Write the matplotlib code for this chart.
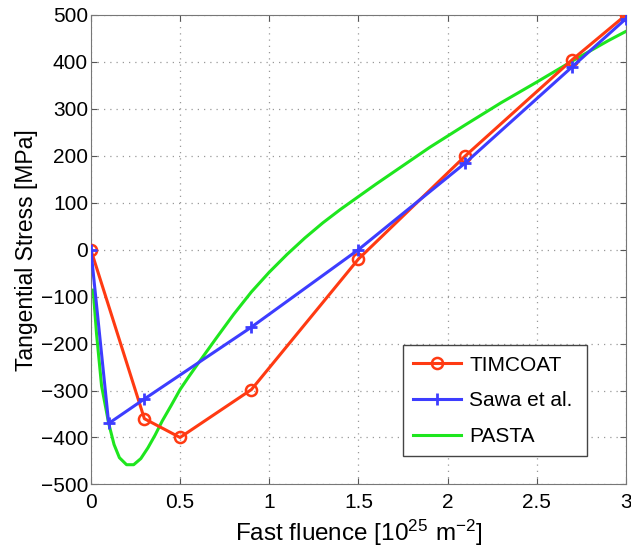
import matplotlib.pyplot as plt

plt.rcParams["font.family"] = ["Liberation Sans", "DejaVu Sans"]

# TIMCOAT
x_timcoat = [0, 0.3, 0.5, 0.9, 1.5, 2.1, 2.7, 3.0]
y_timcoat = [0, -360, -400, -298, -20, 200, 405, 500]

# Sawa et al.
x_sawa = [0, 0.1, 0.3, 0.9, 1.5, 2.1, 2.7, 3.0]
y_sawa = [0, -370, -318, -165, 0, 185, 390, 492]

# PASTA
x_pasta = [0.013, 0.032, 0.06, 0.1, 0.13, 0.16, 0.2, 0.24, 0.28, 0.32, 0.36, 0.4,
           0.45, 0.5, 0.55, 0.6, 0.7, 0.8, 0.9, 1.0, 1.1, 1.2, 1.3, 1.4, 1.5,
           1.6, 1.7, 1.8, 1.9, 2.0, 2.1, 2.3, 2.5, 2.7, 2.9, 3.0]
y_pasta = [-86, -180, -290, -370, -415, -443, -458, -458, -445, -422, -395, -365,
           -332, -298, -270, -243, -190, -138, -90, -48, -10, 25, 57, 86, 113,
           140, 166, 192, 218, 242, 266, 313, 357, 402, 445, 465]

fig = plt.figure(figsize=(6.31, 5.53), dpi=100)
ax = fig.add_axes([0.144, 0.124, 0.848, 0.849])

ax.plot(x_timcoat, y_timcoat, "-o", color="#ff3a12", lw=2.2, markersize=8,
        markerfacecolor="none", markeredgewidth=1.8, label="TIMCOAT", zorder=3)
ax.plot(x_sawa, y_sawa, "-+", color="#3d3dff", lw=2.2, markersize=9,
        markeredgewidth=2, label="Sawa et al.", zorder=4)
ax.plot(x_pasta, y_pasta, "-", color="#1ee61e", lw=2.2, label="PASTA", zorder=2)

ax.set_xlim(0, 3)
ax.set_ylim(-500, 500)
ax.set_xticks([0, 0.5, 1, 1.5, 2, 2.5, 3])
ax.set_xticklabels(["0", "0.5", "1", "1.5", "2", "2.5", "3"])
ax.set_yticks(range(-500, 501, 100))
ax.set_yticklabels([str(v).replace("-", "\u2212") for v in range(-500, 501, 100)])
ax.tick_params(direction="in", labelsize=15, top=True, right=True, length=4,
               color="#555555")
ax.tick_params(axis="y", pad=2)
ax.tick_params(axis="x", pad=6)
ax.grid(True, linestyle=(0, (1, 4)), color="#999999", lw=0.9)
for s in ax.spines.values():
    s.set_color("#777777")

ax.set_xlabel("Fast fluence [$\\mathregular{10^{25}\\ m^{-2}}$]", fontsize=17.5, labelpad=4)
ax.set_ylabel("Tangential Stress [MPa]", fontsize=16.5, labelpad=2)

leg = ax.legend(loc="lower left", bbox_to_anchor=(0.583, 0.06, 0.344, 0.247),
                mode="expand", borderaxespad=0, fontsize=15, fancybox=False,
                framealpha=1, edgecolor="#444444", handlelength=2.3,
                handletextpad=0.4, borderpad=0.5, labelspacing=0.8)
leg.get_frame().set_linewidth(1)

plt.savefig("out.png", dpi=100)
